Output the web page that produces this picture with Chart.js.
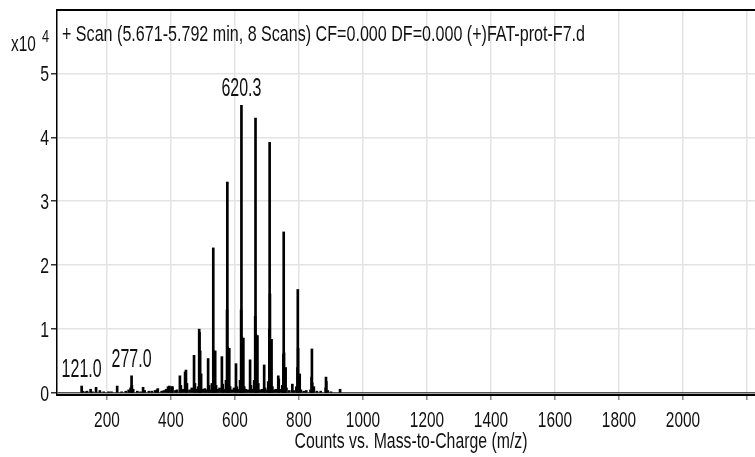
<!DOCTYPE html>
<html>
<head>
<meta charset="utf-8">
<script src="https://cdn.jsdelivr.net/npm/chart.js@4.4.1/dist/chart.umd.min.js"></script>
<style>
    body { margin: 0; background: #fff; }
    canvas { display: block; }
</style>
</head>
<body>
<canvas id="myChart" width="755" height="457"></canvas>
<script>
// spectrum sticks, intensity in units of 10^4 counts
const peakMz = [
    121.0, 124.0, 133.0, 138.0, 149.0, 155.0, 166.0, 178.0, 190.0, 205.0,
    214.0, 232.0, 246.0, 259.0, 268.0, 274.0, 277.0, 278.0, 282.0, 295.0,
    305.0, 313.0, 318.0, 331.0, 340.0, 350.0, 356.0, 359.0, 371.0, 378.0,
    385.0, 391.0, 395.0, 402.0, 405.0, 414.0, 419.0, 428.0, 431.0, 437.0,
    444.2, 447.0, 450.0, 458.0, 465.0, 472.2, 475.0, 480.0, 485.0, 488.3,
    489.3, 491.3, 494.3, 500.0, 506.0, 510.0, 516.2, 519.0, 524.0, 528.0,
    532.3, 533.3, 538.3, 541.0, 546.0, 552.0, 559.2, 562.0, 567.0, 572.0,
    575.3, 576.3, 577.3, 582.3, 585.0, 590.0, 597.0, 603.3, 606.0, 612.0,
    616.0, 619.3, 620.3, 621.3, 626.3, 629.0, 634.0, 640.0, 647.3, 650.0,
    655.0, 660.0, 663.3, 664.3, 665.3, 670.3, 673.0, 678.0, 685.0, 691.3,
    694.0, 699.0, 704.0, 707.4, 708.4, 709.4, 714.4, 717.0, 722.0, 728.0,
    735.4, 737.0, 741.0, 748.0, 751.4, 752.4, 753.4, 758.4, 761.0, 770.0,
    779.4, 784.0, 792.0, 795.4, 796.4, 797.4, 802.4, 806.0, 815.0, 823.0,
    836.0, 839.5, 840.5, 841.5, 846.5, 856.0, 868.0, 883.5, 884.5, 885.5,
    890.0, 900.0, 928.5
];
const peakIntensity = [
    0.11, 0.03, 0.02, 0.03, 0.06, 0.02, 0.09, 0.04, 0.02, 0.02,
    0.02, 0.11, 0.02, 0.03, 0.05, 0.08, 0.27, 0.12, 0.06, 0.03,
    0.02, 0.09, 0.04, 0.03, 0.03, 0.04, 0.05, 0.07, 0.03, 0.04,
    0.06, 0.10, 0.11, 0.10, 0.10, 0.04, 0.05, 0.27, 0.12, 0.06,
    0.33, 0.36, 0.15, 0.05, 0.08, 0.59, 0.15, 0.06, 0.10, 1.00,
    0.95, 0.66, 0.30, 0.06, 0.07, 0.05, 0.54, 0.12, 0.05, 0.15,
    2.27, 0.66, 0.66, 0.12, 0.06, 0.08, 0.57, 0.14, 0.06, 0.20,
    1.30, 3.30, 0.72, 0.70, 0.10, 0.05, 0.08, 0.46, 0.10, 0.06,
    0.20, 1.30, 4.50, 0.88, 0.86, 0.10, 0.06, 0.05, 0.52, 0.12,
    0.06, 0.20, 1.20, 4.30, 0.92, 0.90, 0.15, 0.05, 0.06, 0.44,
    0.08, 0.05, 0.18, 1.00, 3.92, 1.55, 0.84, 0.10, 0.05, 0.06,
    0.27, 0.22, 0.06, 0.12, 0.60, 2.52, 0.63, 0.40, 0.08, 0.04,
    0.14, 0.04, 0.10, 0.40, 1.62, 0.70, 0.30, 0.05, 0.03, 0.04,
    0.05, 0.25, 0.69, 0.16, 0.10, 0.03, 0.03, 0.08, 0.25, 0.18,
    0.04, 0.02, 0.06
];
const labelledPeaks = [121.0, 277.0, 620.3];
const xTicks = [200, 400, 600, 800, 1000, 1200, 1400, 1600, 1800, 2000, 2200];
const xTickLabels = ['200', '400', '600', '800', '1000', '1200', '1400', '1600', '1800', '2000', ''];
const yTicks = [0, 1, 2, 3, 4, 5];
const yTickLabels = ['0', '1', '2', '3', '4', '5'];
const titleText = '+ Scan (5.671-5.792 min, 8 Scans) CF=0.000 DF=0.000 (+)FAT-prot-F7.d';
const xTitle = 'Counts vs. Mass-to-Charge (m/z)';

const FONT = "'Liberation Sans', Arial, sans-serif";

const spectrumData = peakMz.map((mz, i) => ({ x: mz, y: peakIntensity[i] }));

// liberation sans squeezed sideways, to look like the narrow font of the original
function narrowText(c, text, x, y, size, align, sx, fitWidth) {
    c.save();
    c.font = size + 'px ' + FONT;
    if (fitWidth) sx = fitWidth / c.measureText(text).width;
    c.translate(x, y);
    c.scale(sx, 1);
    c.textAlign = align;
    c.textBaseline = 'alphabetic';
    c.fillText(text, 0, 0);
    c.restore();
}

const decorPlugin = {
    id: 'decor',
    afterDraw(chart) {
        const c = chart.ctx;
        const area = chart.chartArea;
        const xs = chart.scales.x;
        const ys = chart.scales.y;
        c.save();
        c.strokeStyle = '#000';
        c.lineWidth = 2;
        c.beginPath();
        c.moveTo(area.left - 1, area.top);
        c.lineTo(area.right, area.top);
        c.stroke();

        c.fillStyle = '#111';
        narrowText(c, 'x10', 11, 51, 22, 'left', 0.7);
        narrowText(c, '4', 42, 42, 17, 'left', 0.75);
        narrowText(c, titleText, area.left + 5, 41, 22, 'left', 1, 523);

        xTicks.forEach((v, i) => {
            narrowText(c, xTickLabels[i], xs.getPixelForValue(v), 427, 22, 'center', 0.7);
        });
        yTicks.forEach((v, i) => {
            narrowText(c, yTickLabels[i], 49, ys.getPixelForValue(v) + 8, 22, 'right', 0.72);
        });
        narrowText(c, xTitle, (area.left + area.right) / 2 + 5, 448, 22, 'center', 1, 233);

        for (let mz of labelledPeaks) {
            const i = peakMz.indexOf(mz);
            const px = xs.getPixelForValue(mz);
            const py = ys.getPixelForValue(peakIntensity[i]);
            narrowText(c, mz.toFixed(1), px, py - 9, 25, 'center', 0.64);
        }
        c.restore();
    }
};

const ctx = document.getElementById('myChart').getContext('2d');
const myChart = new Chart(ctx, {
    type: 'scatter',
    data: {
        datasets: [{
            type: 'bar',
            label: 'Spectrum',
            data: spectrumData,
            backgroundColor: '#000',
            borderWidth: 0,
            barThickness: 2
        }]
    },
    options: {
        responsive: false,
        animation: false,
        layout: { padding: { top: 10, right: 0, left: 0, bottom: 0 } },
        plugins: {
            legend: { display: false },
            tooltip: { enabled: false }
        },
        scales: {
            x: {
                type: 'linear',
                min: 44,
                max: 2225,
                offset: false,
                afterFit(scale) { scale.height = 62; },
                afterBuildTicks(scale) { scale.ticks = xTicks.map(v => ({ value: v })); },
                ticks: { display: false },
                grid: {
                    offset: false,
                    color: '#e4e4e4',
                    lineWidth: 1.5,
                    tickLength: 5,
                    tickColor: '#888'
                },
                border: { color: '#000', width: 2 }
            },
            y: {
                type: 'linear',
                min: -0.03,
                max: 5.99,
                afterFit(scale) { scale.width = 57; },
                afterBuildTicks(scale) { scale.ticks = yTicks.map(v => ({ value: v })); },
                ticks: { display: false },
                grid: {
                    color: c => (c.tick && c.tick.value === 0 ? '#555' : '#e4e4e4'),
                    lineWidth: 1.5,
                    tickLength: 6,
                    tickColor: '#333'
                },
                border: { color: '#000', width: 1.5 }
            }
        }
    },
    plugins: [decorPlugin]
});
</script>
</body>
</html>
